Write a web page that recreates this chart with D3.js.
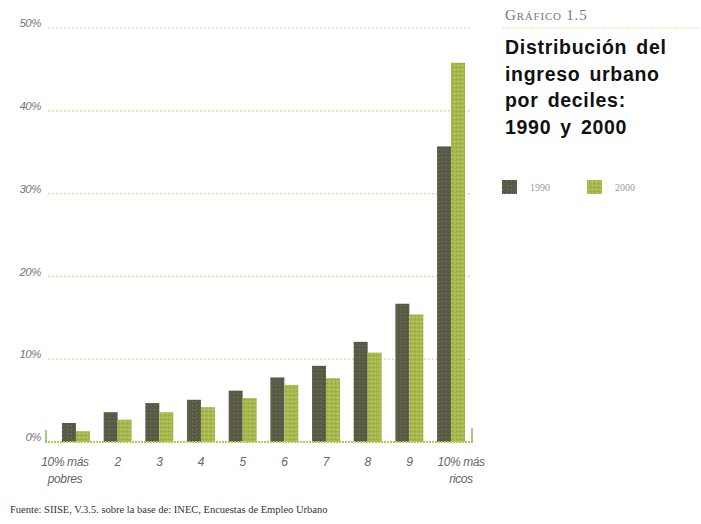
<!DOCTYPE html>
<html>
<head>
<meta charset="utf-8">
<script src="https://cdn.jsdelivr.net/npm/d3@7"></script>
<style>
  body { margin: 0; background: #fff; }
  svg { display: block; }
</style>
</head>
<body>
<script>
// data (percent of urban income by decile)
var deciles = ["1", "2", "3", "4", "5", "6", "7", "8", "9", "10"];
var deciLabels = [["10% más", "pobres"], ["2"], ["3"], ["4"], ["5"], ["6"], ["7"], ["8"], ["9"], ["10% más", "ricos"]];
var years = ["1990", "2000"];
var v1990 = [2.3, 3.6, 4.7, 5.1, 6.2, 7.8, 9.2, 12.1, 16.7, 35.7];
var v2000 = [1.3, 2.7, 3.6, 4.2, 5.3, 6.9, 7.7, 10.8, 15.4, 45.8];
var yTicks = [0, 10, 20, 30, 40, 50];
var titleLines = ["Distribución del", "ingreso urbano", "por deciles:", "1990 y 2000"];

var W = 701, H = 524;
var svg = d3.select("body").append("svg").attr("width", W).attr("height", H);

// textures for bars
var defs = svg.append("defs");
var pd = defs.append("pattern").attr("id", "pDark").attr("patternUnits", "userSpaceOnUse")
  .attr("width", 4).attr("height", 4);
pd.append("rect").attr("width", 4).attr("height", 4).attr("fill", "#585846");
pd.append("rect").attr("x", 1).attr("y", 1).attr("width", 1).attr("height", 1).attr("fill", "#7e8650");
pd.append("rect").attr("x", 3).attr("y", 3).attr("width", 1).attr("height", 1).attr("fill", "#6a5e4e");
var pl = defs.append("pattern").attr("id", "pLight").attr("patternUnits", "userSpaceOnUse")
  .attr("width", 4).attr("height", 4);
pl.append("rect").attr("width", 4).attr("height", 4).attr("fill", "#a8b64e");
pl.append("rect").attr("x", 1).attr("y", 1).attr("width", 1).attr("height", 1).attr("fill", "#d6d865");
pl.append("rect").attr("x", 3).attr("y", 3).attr("width", 1).attr("height", 1).attr("fill", "#7ea43f");

var x = d3.scaleBand().domain(deciles).range([49.5, 477.5]).paddingInner(0.33).paddingOuter(0.3);
var xs = d3.scaleBand().domain(years).range([0, x.bandwidth()]);
var y = d3.scaleLinear().domain([0, 50]).range([442, 28]);
var fills = { "1990": "url(#pDark)", "2000": "url(#pLight)" };

// gridlines
svg.append("g").selectAll("line").data(yTicks.filter(function (d) { return d > 0; })).join("line")
  .attr("x1", 48).attr("x2", 470)
  .attr("y1", function (d) { return y(d); }).attr("y2", function (d) { return y(d); })
  .attr("stroke", "#c9d27a").attr("stroke-width", 1.2).attr("stroke-dasharray", "1.5,2.5");

// y axis labels
var yAxis = d3.axisLeft(y).tickValues(yTicks).tickSize(0).tickFormat(function (d) { return d + "%"; });
var ga = svg.append("g").attr("transform", "translate(44,-5)").call(yAxis);
ga.select(".domain").remove();
ga.selectAll("text").attr("fill", "#777").attr("font-family", "Liberation Sans, Arial, sans-serif")
  .attr("font-style", "italic").attr("font-size", 11.5).attr("letter-spacing", -0.5);

// bars
var rows = deciles.map(function (d, i) { return { dec: d, vals: [{ yr: "1990", v: v1990[i] }, { yr: "2000", v: v2000[i] }] }; });
var g = svg.append("g").selectAll("g").data(rows).join("g")
  .attr("transform", function (d) { return "translate(" + x(d.dec) + ",0)"; });
g.selectAll("rect").data(function (d) { return d.vals; }).join("rect")
  .attr("x", function (d) { return xs(d.yr); })
  .attr("width", xs.bandwidth())
  .attr("y", function (d) { return y(d.v); })
  .attr("height", function (d) { return y(0) - y(d.v); })
  .attr("fill", function (d) { return fills[d.yr]; });

// baseline and end ticks
svg.append("line").attr("x1", 45).attr("x2", 473).attr("y1", y(0)).attr("y2", y(0))
  .attr("stroke", "#b8c850").attr("stroke-width", 2).attr("stroke-dasharray", "2,1");
svg.append("line").attr("x1", 46).attr("x2", 46).attr("y1", y(0)).attr("y2", y(0) - 12)
  .attr("stroke", "#7cc04a").attr("stroke-width", 1.5);
svg.append("line").attr("x1", 472).attr("x2", 472).attr("y1", y(0)).attr("y2", y(0) - 14)
  .attr("stroke", "#7cc04a").attr("stroke-width", 1.5);

// x labels
var xl = svg.append("g").selectAll("text").data(deciles).join("text")
  .attr("x", function (d, i) { return x(d) + x.bandwidth() / 2 + (i === 0 ? -11 : i === 9 ? 10 : 0); })
  .attr("y", 466)
  .attr("text-anchor", "middle").attr("fill", "#666")
  .attr("font-family", "Liberation Sans, Arial, sans-serif").attr("font-style", "italic")
  .attr("font-size", 12).attr("letter-spacing", -0.4);
xl.selectAll("tspan").data(function (d, i) { return deciLabels[i]; }).join("tspan")
  .attr("x", function () { return d3.select(this.parentNode).attr("x"); })
  .attr("dy", function (d, i) { return i === 0 ? 0 : 17; })
  .text(function (d) { return d; });

// title block
svg.append("text").attr("x", 505).attr("y", 20).text("Gráfico 1.5")
  .attr("font-family", "Liberation Serif, serif").attr("font-variant", "small-caps")
  .attr("font-size", 15).attr("letter-spacing", 0.8).attr("fill", "#777");
svg.append("line").attr("x1", 503).attr("x2", 701).attr("y1", 28).attr("y2", 28)
  .attr("stroke", "#d8dc90").attr("stroke-width", 1.2).attr("stroke-dasharray", "1.5,1.5");
svg.append("g").selectAll("text").data(titleLines).join("text")
  .attr("x", 505).attr("y", function (d, i) { return 54 + i * 26.5; })
  .attr("font-family", "Liberation Sans, Arial, sans-serif").attr("font-weight", "bold")
  .attr("font-size", 19.5).attr("letter-spacing", 0.7).attr("word-spacing", 3)
  .attr("fill", "#111").text(function (d) { return d; });

// legend
var lg = svg.append("g").selectAll("g").data(years).join("g")
  .attr("transform", function (d, i) { return "translate(" + (502 + i * 85) + ",180)"; });
lg.append("rect").attr("width", 15).attr("height", 14).attr("fill", function (d) { return fills[d]; });
lg.append("text").attr("x", 28).attr("y", 11).text(function (d) { return d; })
  .attr("font-family", "Liberation Serif, serif").attr("font-size", 10).attr("fill", "#999");

// source
svg.append("text").attr("x", 10).attr("y", 513)
  .text("Fuente: SIISE, V.3.5. sobre la base de: INEC, Encuestas de Empleo Urbano")
  .attr("font-family", "Liberation Serif, serif").attr("font-size", 10.5).attr("fill", "#333");
</script>
</body>
</html>
